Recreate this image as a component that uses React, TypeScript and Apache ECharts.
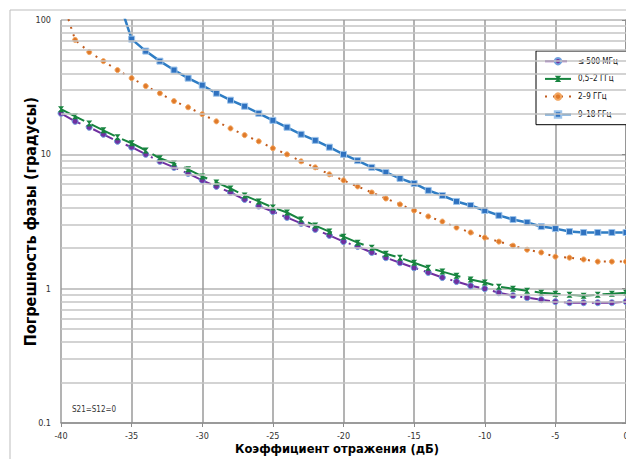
import React, { useEffect, useRef } from "react";
import * as echarts from "echarts";

const FONT = "'Liberation Sans Narrow', 'DejaVu Sans Condensed', 'Liberation Sans', sans-serif";

const xDb = [-40, -39, -38, -37, -36, -35, -34, -33, -32, -31, -30, -29, -28, -27, -26, -25, -24, -23, -22, -21, -20, -19, -18, -17, -16, -15, -14, -13, -12, -11, -10, -9, -8, -7, -6, -5, -4, -3, -2, -1, 0];

const s500 = [20.2, 17.6, 15.9, 14.1, 12.5, 11.3, 10.0, 8.87, 8.0, 7.21, 6.4, 5.77, 5.2, 4.61, 4.12, 3.75, 3.39, 3.06, 2.76, 2.49, 2.24, 2.06, 1.86, 1.70, 1.56, 1.43, 1.32, 1.21, 1.13, 1.05, 1.0, 0.933, 0.887, 0.857, 0.828, 0.80, 0.786, 0.786, 0.786, 0.786, 0.80];

const s2g = [21.7, 19.2, 17.0, 15.1, 13.4, 12.1, 10.7, 9.34, 8.57, 7.73, 6.85, 6.18, 5.57, 4.94, 4.46, 4.02, 3.69, 3.27, 2.95, 2.66, 2.44, 2.20, 2.02, 1.82, 1.70, 1.56, 1.43, 1.34, 1.25, 1.17, 1.11, 1.035, 1.0, 0.966, 0.933, 0.918, 0.902, 0.887, 0.902, 0.918, 0.933];

const s9g = [150, 71.1, 57.7, 49.4, 42.4, 36.9, 32.2, 28.5, 24.9, 22.4, 19.9, 17.6, 15.6, 13.9, 12.5, 11.1, 10.0, 8.87, 8.0, 7.1, 6.4, 5.77, 5.2, 4.69, 4.24, 3.82, 3.45, 3.16, 2.85, 2.62, 2.40, 2.24, 2.09, 1.95, 1.86, 1.73, 1.70, 1.65, 1.59, 1.59, 1.59];

const xBlue = [-36, -35, -34, -33, -32, -31, -30, -29, -28, -27, -26, -25, -24, -23, -22, -21, -20, -19, -18, -17, -16, -15, -14, -13, -12, -11, -10, -9, -8, -7, -6, -5, -4, -3, -2, -1, 0];
const s18g = [150, 72.1, 58.7, 49.4, 42.4, 36.9, 32.7, 28.5, 25.3, 22.8, 20.2, 17.9, 15.9, 14.1, 12.7, 11.3, 10.0, 8.98, 8.0, 7.33, 6.62, 6.07, 5.39, 4.94, 4.46, 4.16, 3.82, 3.51, 3.27, 3.11, 2.90, 2.80, 2.66, 2.62, 2.62, 2.62, 2.62];

const seriesNames = ["≤ 500 МГц", "0,5–2 ГГц", "2–9 ГГц", "9–18 ГГц"];
const minorGridValues = [0.2, 0.3, 0.4, 0.5, 0.6, 0.7, 0.8, 0.9, 2, 3, 4, 5, 6, 7, 8, 9, 20, 30, 40, 50, 60, 70, 80, 90];

const pairs = (xs: number[], ys: number[]) => xs.map((x, i) => [x, ys[i]]);

export default function App() {
  const ref = useRef<HTMLDivElement>(null);
  useEffect(() => {
    if (!ref.current) return;
    const chart = echarts.init(ref.current, null, { renderer: "svg" });
    chart.setOption({
      animation: false,
      backgroundColor: "#ffffff",
      textStyle: { fontFamily: FONT },
      grid: { left: 61, top: 20, right: 0, bottom: 36, containLabel: false, outerBoundsMode: "none" },
      graphic: [
        {
          type: "rect",
          shape: { x: 10, y: 10, width: 700, height: 600 },
          style: { fill: "none", stroke: "#bdbdbd", lineWidth: 1 },
          silent: true,
          z: -10,
        },
        {
          type: "text",
          left: 72,
          top: 405,
          style: { text: "S21=S12=0", fontSize: 8, fill: "#333", fontFamily: FONT },
        },
      ],
      legend: {
        data: seriesNames,
        orient: "vertical",
        left: 536,
        top: 51,
        padding: [6, 60, 6, 8],
        itemWidth: 26,
        itemHeight: 8,
        itemGap: 9.5,
        borderColor: "#000",
        borderWidth: 1,
        backgroundColor: "#fff",
        textStyle: { fontSize: 8, color: "#111", fontFamily: FONT, padding: [0, 0, 0, 2] },
      },
      xAxis: {
        type: "value",
        min: -40,
        max: 0,
        interval: 5,
        name: "Коэффициент отражения (дБ)",
        nameLocation: "middle",
        nameGap: 19,
        nameMoveOverlap: false,
        nameTextStyle: {
          fontSize: 12.8,
          fontWeight: "bold",
          color: "#000",
          fontFamily: FONT,
          padding: [0, 13, 0, 0],
        },
        axisLine: { show: true, onZero: false, lineStyle: { color: "#8c8c8c", width: 1.5 } },
        axisTick: { show: true, length: 4, lineStyle: { color: "#8c8c8c" } },
        axisLabel: { fontSize: 9, color: "#333", margin: 8, fontFamily: FONT },
        splitLine: { show: true, lineStyle: { color: "#9a9a9a", width: 1.5 } },
      },
      yAxis: {
        type: "log",
        logBase: 10,
        min: 0.1,
        max: 100,
        name: "Погрешность фазы (градусы)",
        nameLocation: "middle",
        nameGap: 23,
        nameMoveOverlap: false,
        nameTextStyle: { fontSize: 16, fontWeight: "bold", color: "#000", fontFamily: FONT },
        axisLine: { show: true, lineStyle: { color: "#8c8c8c", width: 1.5 } },
        axisTick: { show: true, length: 4, lineStyle: { color: "#8c8c8c" } },
        axisLabel: {
          fontSize: 9,
          color: "#333",
          margin: 10,
          fontFamily: FONT,
          formatter: (v: number) => (v < 1 ? "0.1" : String(Math.round(v))),
        },
        splitLine: { show: true, lineStyle: { color: "#b4b4b4", width: 1.5 } },
      },
      series: [
        {
          name: "grid-minor",
          type: "line",
          data: [],
          silent: true,
          z: 0,
          markLine: {
            silent: true,
            symbol: ["none", "none"],
            label: { show: false },
            lineStyle: { color: "#c4c4c4", width: 1.5, type: "solid" },
            data: minorGridValues.map((v) => ({ yAxis: v })),
          },
        },
        {
          name: seriesNames[0],
          type: "line",
          data: pairs(xDb, s500),
          symbol: "circle",
          symbolSize: 6,
          z: 3,
          lineStyle: { color: "#7030a0", width: 2, type: [22, 6, 2, 6] },
          itemStyle: { color: "#7030a0", borderColor: "#6f9fdc", borderWidth: 1 },
        },
        {
          name: seriesNames[1],
          type: "line",
          data: pairs(xDb, s2g),
          symbol: "path://M0,0 L10,0 L6,5 L10,10 L0,10 L4,5 Z",
          symbolSize: 6,
          z: 4,
          lineStyle: { color: "#17843f", width: 2, type: [26, 8] },
          itemStyle: { color: "#17843f" },
        },
        {
          name: seriesNames[2],
          type: "line",
          data: pairs(xDb, s9g),
          symbol: "circle",
          symbolSize: 5,
          z: 3,
          lineStyle: { color: "#c05a1c", width: 2, type: [2, 6] },
          itemStyle: { color: "#e07a2a", borderColor: "#f2a660", borderWidth: 1 },
        },
        {
          name: seriesNames[3],
          type: "line",
          data: pairs(xBlue, s18g),
          symbol: "rect",
          symbolSize: 6,
          z: 3,
          lineStyle: { color: "#2f7dc4", width: 2.5 },
          itemStyle: { color: "#2f72c0", borderColor: "#9cc3ea", borderWidth: 1 },
        },
      ],
    });
    return () => chart.dispose();
  }, []);
  return (
    <div
      ref={ref}
      style={{ position: "fixed", left: 0, top: 0, width: 626, height: 459, background: "#fff" }}
    />
  );
}
